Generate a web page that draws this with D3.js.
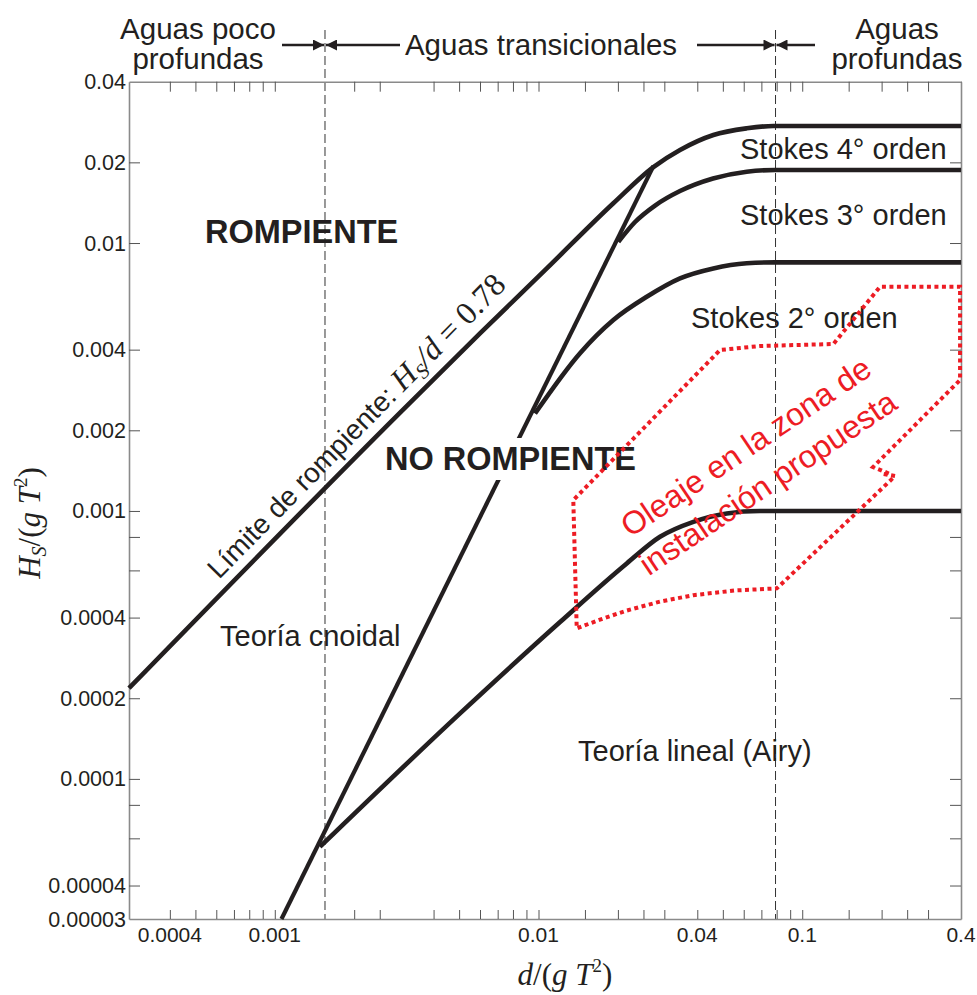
<!DOCTYPE html>
<html><head><meta charset="utf-8">
<script src="https://cdn.jsdelivr.net/npm/d3@7"></script>
<style>body{margin:0;background:#fff}svg{display:block}</style>
</head><body>
<svg id="c" width="977" height="995"></svg>
<script>
// ---------- data ----------
const xTicks = [0.0004,0.0005,0.0006,0.0007,0.0008,0.0009,0.001,0.002,0.0025,0.004,0.005,0.006,0.007,0.008,0.009,0.01,0.015,0.02,0.025,0.03,0.04,0.05,0.06,0.07,0.08,0.09,0.1,0.15,0.2,0.25,0.3,0.4];
const xTickLabels = [0.0004,0.001,0.01,0.04,0.1,0.4];
const yTicks = [0.04,0.02,0.01,0.004,0.002,0.001,0.0008,0.0006,0.0004,0.0002,0.0001,0.00008,0.00006,0.00004,0.00003];
const yTickLabels = [0.04,0.02,0.01,0.004,0.002,0.001,0.0004,0.0002,0.0001,0.00004,0.00003];
const depthLimits = [0.00155, 0.0792]; // shallow / deep water limits

// breaking limit (H/d = 0.78 -> deep water steepness)
const breakD = [0.00028,0.003,0.006,0.01075,0.01922,0.02726,0.0344,0.04603,0.06161,0.0777,0.4];
const breakH = [0.000218,0.00234,0.0046,0.00804,0.01407,0.0192,0.02224,0.0253,0.02679,0.02734,0.02734];
// Stokes 3rd / 4th order boundary
const stokes4D = [0.02008,0.02323,0.02766,0.0344,0.0459,0.06161,0.0789,0.4];
const stokes4H = [0.0101,0.01198,0.0138,0.01563,0.01741,0.01846,0.01873,0.01873];
// Stokes 2nd / 3rd order boundary
const stokes3D = [0.0097,0.01437,0.01922,0.02573,0.0344,0.04603,0.06161,0.0789,0.4];
const stokes3H = [0.00231,0.00388,0.00516,0.0063,0.00738,0.00804,0.0084,0.00847,0.00847];
// linear (Airy) / Stokes 2nd order boundary
const linearD = [0.001484,0.005041,0.01207,0.02161,0.02889,0.03866,0.05173,0.06921,0.0795,0.4];
const linearH = [0.0000558,0.0001756,0.000385,0.000637,0.000801,0.000911,0.000979,0.001,0.001,0.001];
// cnoidal / Stokes boundary (straight line)
const cnoidalD = [0.00106,0.0273];
const cnoidalH = [0.00003,0.0194];
// proposed installation zone (red dotted outline)
const zoneD = [0.2130,0.1856,0.3967,0.3967,0.1973,0.1313,0.06921,0.04881,0.01355,0.01396,0.01711,0.02161,0.02889,0.03866,0.05564,0.08009,0.2249,0.1990];
const zoneH = [0.00138,0.001458,0.003081,0.006868,0.006868,0.004198,0.004126,0.003988,0.001098,0.0003646,0.000393,0.000425,0.000459,0.000485,0.000505,0.000514,0.00135,0.00138];

// ---------- chart ----------
const svg = d3.select('#c');
const L = 129, R = 961, T = 81.7, B = 919;
const x = d3.scaleLog().domain([0.00028, 0.4]).range([L, R]);
const y = d3.scaleLog().domain([0.00003, 0.04]).range([B, T]);
const ink = '#231f20';
const sans = '"Liberation Sans", Arial, Helvetica, sans-serif';
const serif = '"Liberation Serif", "Times New Roman", serif';

const pts = (D, H) => D.map((d, i) => [d, H[i]]);
const line = d3.line().x(p => x(p[0])).y(p => y(p[1])).curve(d3.curveMonotoneX);
const poly = d3.line().x(p => x(p[0])).y(p => y(p[1]));

// dashed depth limit lines
svg.selectAll('line.lim').data(depthLimits).enter().append('line').attr('class', 'lim')
  .attr('x1', d => x(d)).attr('x2', d => x(d)).attr('y1', 30).attr('y2', B)
  .attr('stroke', '#333').attr('stroke-width', 1).attr('stroke-dasharray', '9,4');

// axes
const ax = svg.append('g');
const inner = yTicks.filter(v => v > 0.00003 && v < 0.04);
ax.append('g').attr('transform', `translate(0,${B})`)
  .call(d3.axisBottom(x).tickValues(xTicks).tickSizeInner(-9).tickSizeOuter(0).tickFormat(''));
ax.append('g').attr('transform', `translate(0,${T})`)
  .call(d3.axisTop(x).tickValues(xTicks).tickSizeInner(-10).tickSizeOuter(0).tickFormat(''));
ax.append('g').attr('transform', `translate(${L},0)`)
  .call(d3.axisLeft(y).tickValues(inner).tickSizeInner(-11).tickSizeOuter(0).tickFormat(''));
ax.append('g').attr('transform', `translate(${R},0)`)
  .call(d3.axisRight(y).tickValues(inner).tickSizeInner(-11).tickSizeOuter(0).tickFormat(''));
ax.selectAll('.domain').attr('stroke', '#8a8a8a').attr('stroke-width', 1.6);
ax.selectAll('.tick line').attr('stroke', '#555').attr('stroke-width', 1);

// tick labels
svg.append('g').selectAll('text').data(xTickLabels).enter().append('text')
  .attr('x', d => x(d)).attr('y', 942).attr('text-anchor', 'middle')
  .attr('font-family', sans).attr('font-size', 21).attr('fill', ink)
  .text(d => d3.format('~g')(d));
svg.append('g').selectAll('text').data(yTickLabels).enter().append('text')
  .attr('x', 126).attr('y', d => y(d)).attr('dy', '0.35em').attr('text-anchor', 'end')
  .attr('font-family', sans).attr('font-size', 21.5).attr('fill', ink)
  .text(d => d3.format('~f')(d));

// curves
const curves = [pts(breakD, breakH), pts(stokes4D, stokes4H), pts(stokes3D, stokes3H), pts(linearD, linearH)];
svg.append('g').selectAll('path').data(curves).enter().append('path')
  .attr('d', line).attr('fill', 'none').attr('stroke', ink).attr('stroke-width', 4.6);
svg.append('path').datum(pts(cnoidalD, cnoidalH)).attr('d', poly)
  .attr('fill', 'none').attr('stroke', ink).attr('stroke-width', 4.2);

// region labels
const labels = svg.append('g');
function lab(t, px, py, opt = {}) {
  return labels.append('text').attr('x', px).attr('y', py).attr('text-anchor', opt.anchor || 'start')
    .attr('font-family', sans).attr('font-size', opt.size || 29)
    .attr('font-weight', opt.bold ? 'bold' : 'normal').attr('fill', opt.fill || ink).text(t);
}
lab('ROMPIENTE', 205, 243, {bold: true, size: 32.5});
// NO ROMPIENTE with white backing (interrupts the cnoidal line)
const nr = lab('NO ROMPIENTE', 385, 470, {bold: true, size: 32.5});
const bb = nr.node().getBBox();
labels.insert('rect', () => nr.node()).attr('x', bb.x - 2).attr('y', bb.y - 3)
  .attr('width', bb.width + 4).attr('height', bb.height + 6).attr('fill', '#fff');
lab('Teoría cnoidal', 220, 646);
lab('Teoría lineal (Airy)', 578, 761);
lab('Stokes 4° orden', 740, 159);
lab('Stokes 3° orden', 740, 225);
lab('Stokes 2° orden', 691, 328);

// breaking limit label
const bl = svg.append('text').attr('transform', 'translate(219,580) rotate(-45.5)')
  .attr('font-family', sans).attr('font-size', 28).attr('fill', ink);
bl.append('tspan').text('Límite de rompiente: ');
bl.append('tspan').attr('font-family', serif).attr('font-style', 'italic').attr('font-size', 32).text('H');
bl.append('tspan').attr('font-family', serif).attr('font-style', 'italic').attr('font-size', 21).attr('dy', 6).text('S');
bl.append('tspan').attr('font-family', serif).attr('font-style', 'italic').attr('font-size', 32).attr('dy', -6).text('/d');
bl.append('tspan').attr('font-family', serif).attr('font-size', 32).text(' = 0.78');

// red zone
svg.append('path').datum(pts(zoneD, zoneH)).attr('d', poly).attr('fill', 'none')
  .attr('stroke', '#ed1c24').attr('stroke-width', 4).attr('stroke-dasharray', '4,3.5');
const zt = svg.append('g').attr('font-family', sans).attr('font-size', 32).attr('fill', '#ed1c24');
zt.append('text').attr('text-anchor', 'middle').attr('transform', 'translate(752,456) rotate(-34)').text('Oleaje en la zona de');
zt.append('text').attr('text-anchor', 'middle').attr('transform', 'translate(774,492) rotate(-34)').text('instalación propuesta');

// header
const hd = svg.append('g').attr('font-family', sans).attr('font-size', 29.5).attr('fill', ink).attr('text-anchor', 'middle');
hd.append('text').attr('x', 198).attr('y', 39).text('Aguas poco');
hd.append('text').attr('x', 198).attr('y', 69).text('profundas');
hd.append('text').attr('x', 541).attr('y', 55).text('Aguas transicionales');
hd.append('text').attr('x', 897).attr('y', 39).text('Aguas');
hd.append('text').attr('x', 897).attr('y', 69).text('profundas');

const defs = svg.append('defs');
defs.append('marker').attr('id', 'ah').attr('viewBox', '0 0 10 10').attr('refX', 10).attr('refY', 5)
  .attr('markerWidth', 14).attr('markerHeight', 11).attr('markerUnits', 'userSpaceOnUse').attr('orient', 'auto')
  .append('path').attr('d', 'M0,0L10,5L0,10Z').attr('fill', ink);
const arrows = [[282, x(depthLimits[0]) - 1], [400, x(depthLimits[0]) + 1], [697, x(depthLimits[1]) - 1], [815, x(depthLimits[1]) + 1]];
svg.append('g').selectAll('line').data(arrows).enter().append('line')
  .attr('x1', d => d[0]).attr('x2', d => d[1]).attr('y1', 45).attr('y2', 45)
  .attr('stroke', ink).attr('stroke-width', 2.4).attr('marker-end', 'url(#ah)');

// axis titles
const yt = svg.append('text').attr('transform', 'translate(40,523) rotate(-90)').attr('text-anchor', 'middle')
  .attr('font-family', serif).attr('font-size', 31).attr('fill', ink);
yt.append('tspan').attr('font-style', 'italic').text('H');
yt.append('tspan').attr('font-style', 'italic').attr('font-size', 20).attr('dy', 6).text('S');
yt.append('tspan').attr('dy', -6).text('/(');
yt.append('tspan').attr('font-style', 'italic').text('g T');
yt.append('tspan').attr('font-size', 19).attr('dy', -13).text('2');
yt.append('tspan').attr('dy', 13).text(')');

const xt = svg.append('text').attr('x', 565).attr('y', 985).attr('text-anchor', 'middle')
  .attr('font-family', serif).attr('font-size', 31).attr('fill', ink);
xt.append('tspan').attr('font-style', 'italic').text('d');
xt.append('tspan').text('/(');
xt.append('tspan').attr('font-style', 'italic').text('g T');
xt.append('tspan').attr('font-size', 19).attr('dy', -13).text('2');
xt.append('tspan').attr('dy', 13).text(')');
</script>
</body></html>
